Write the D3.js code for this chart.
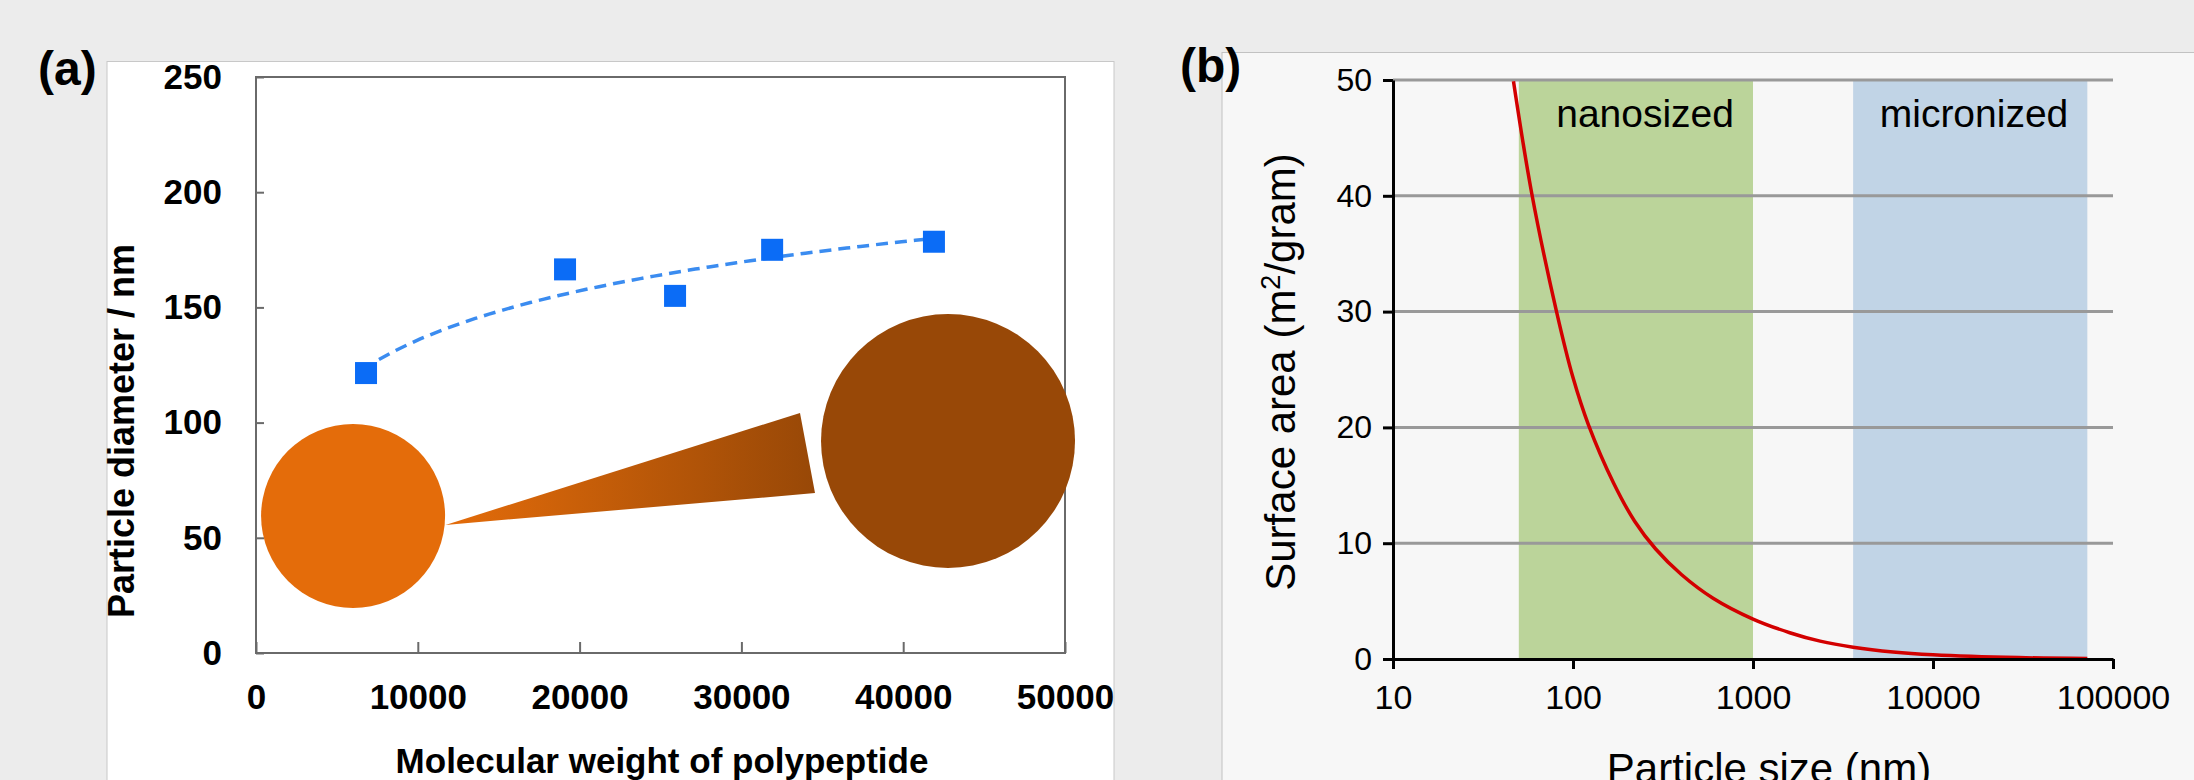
<!DOCTYPE html>
<html lang="en">
  <head>
    <meta charset="UTF-8" />
    <title>Particle size charts</title>
    <script src="https://d3js.org/d3.v7.min.js"></script>
    <style>
      body {
        margin: 0;
        background-color: #ececec;
        overflow: hidden;
      }
      svg {
        display: block;
        font-family: "Liberation Sans", Arial, sans-serif;
      }
      .axis-a text {
        font-size: 35px;
        font-weight: bold;
        fill: #000;
      }
      .axis-b text {
        fill: #000;
      }
    </style>
  </head>
  <body>
    <svg id="chart" width="2194" height="780"></svg>
    <script>
      // panel (a): particle diameter vs molecular weight
      const molWeight = [6800, 19100, 25900, 31900, 41900];
      const diameter = [121.5, 166.5, 155, 175, 178.5];
      const xTicksA = [0, 10000, 20000, 30000, 40000, 50000];
      const yTicksA = [0, 50, 100, 150, 200, 250];
      const trendRange = [7600, 41600];

      // illustration in data units: small / big particle and the wedge between
      const smallParticle = { mw: 6000, d: 59.5 };
      const bigParticle = { mw: 42770, d: 92 };
      const wedge = [
        [11710, 55.6],
        [33620, 104.2],
        [34550, 69.4],
      ];

      // panel (b): surface area vs particle size
      const sizeNm = [46.7, 59, 81, 100, 122, 168, 220, 288, 400, 600, 1000, 1600, 2360, 3600, 6000, 10000, 30000, 72000];
      const surfaceArea = [49.9, 40.2, 30, 24.3, 20.2, 15.2, 11.9, 9.5, 7.3, 5.25, 3.45, 2.27, 1.54, 1.02, 0.61, 0.37, 0.12, 0.05];
      const bands = [
        { name: "nanosized", from: 50, to: 1000, color: "#bbd49a" },
        { name: "micronized", from: 3600, to: 72000, color: "#c1d4e6" },
      ];
      const xTicksB = [10, 100, 1000, 10000, 100000];
      const yTicksB = [0, 10, 20, 30, 40, 50];

      const svg = d3.select("#chart");

      // panel backgrounds
      svg.append("rect").attr("x", 107).attr("y", 61.5).attr("width", 1007).attr("height", 740)
        .attr("fill", "#fff").attr("stroke", "#c8c8c8").attr("stroke-width", 1);
      svg.append("rect").attr("x", 1222).attr("y", 52.5).attr("width", 1000).attr("height", 760)
        .attr("fill", "#f7f7f7").attr("stroke", "#c2c2c2").attr("stroke-width", 1);

      // ---------- panel (a) ----------
      const xA = d3.scaleLinear().domain([0, 50000]).range([256, 1065]);
      const yA = d3.scaleLinear().domain([0, 250]).range([653, 77]);
      const gA = svg.append("g");

      gA.append("rect")
        .attr("x", xA(0)).attr("y", yA(250))
        .attr("width", xA(50000) - xA(0)).attr("height", yA(0) - yA(250))
        .attr("fill", "none").attr("stroke", "#6a6a6a").attr("stroke-width", 2);

      const axA = gA.append("g").attr("class", "axis-a")
        .attr("transform", `translate(0,${yA(0)})`)
        .call(d3.axisBottom(xA).tickValues(xTicksA).tickFormat(d3.format("d"))
          .tickSize(-11).tickSizeOuter(0).tickPadding(31));
      const ayA = gA.append("g").attr("class", "axis-a")
        .attr("transform", `translate(${xA(0)},0)`)
        .call(d3.axisLeft(yA).tickValues(yTicksA).tickSize(-8).tickSizeOuter(0).tickPadding(34));
      [axA, ayA].forEach((a) => {
        a.select(".domain").remove();
        a.selectAll(".tick line").attr("stroke", "#6a6a6a").attr("stroke-width", 2);
      });

      // logarithmic trend line fitted to the points
      const lx = molWeight.map((v) => Math.log(v));
      const mx = d3.mean(lx);
      const my = d3.mean(diameter);
      const slope = d3.sum(lx, (v, i) => (v - mx) * (diameter[i] - my)) / d3.sum(lx, (v) => (v - mx) ** 2);
      const icpt = my - slope * mx;
      const trendPts = d3.range(0, 41).map((i) => {
        const w = trendRange[0] + ((trendRange[1] - trendRange[0]) * i) / 40;
        return [w, slope * Math.log(w) + icpt];
      });
      gA.append("path")
        .datum(trendPts)
        .attr("fill", "none")
        .attr("stroke", "#3b8cf0")
        .attr("stroke-width", 3.5)
        .attr("stroke-dasharray", "12,7")
        .attr("d", d3.line().x((d) => xA(d[0])).y((d) => yA(d[1])));

      gA.selectAll(".pt")
        .data(molWeight)
        .enter()
        .append("rect")
        .attr("x", (d) => xA(d) - 11)
        .attr("y", (d, i) => yA(diameter[i]) - 11)
        .attr("width", 22)
        .attr("height", 22)
        .attr("fill", "#0b6cf6");

      // particles illustration
      const grad = svg.append("defs").append("linearGradient")
        .attr("id", "wedgeGrad").attr("x1", "0%").attr("x2", "100%").attr("y1", "0%").attr("y2", "0%");
      grad.append("stop").attr("offset", "0%").attr("stop-color", "#e46c0a");
      grad.append("stop").attr("offset", "100%").attr("stop-color", "#984807");

      gA.append("path")
        .attr("d", d3.line().x((d) => xA(d[0])).y((d) => yA(d[1]))(wedge) + "Z")
        .attr("fill", "url(#wedgeGrad)");
      gA.append("circle")
        .attr("cx", xA(smallParticle.mw)).attr("cy", yA(smallParticle.d)).attr("r", 92)
        .attr("fill", "#e46c0a");
      gA.append("circle")
        .attr("cx", xA(bigParticle.mw)).attr("cy", yA(bigParticle.d)).attr("r", 127)
        .attr("fill", "#984807");

      gA.append("text")
        .attr("x", 662).attr("y", 773)
        .attr("text-anchor", "middle")
        .attr("font-size", 35).attr("font-weight", "bold")
        .text("Molecular weight of polypeptide");
      gA.append("text")
        .attr("transform", "translate(134,431) rotate(-90)")
        .attr("text-anchor", "middle")
        .attr("font-size", 36).attr("font-weight", "bold")
        .text("Particle diameter / nm");

      // ---------- panel (b) ----------
      const xB = d3.scaleLog().domain([10, 100000]).range([1393, 2113]);
      const yB = d3.scaleLinear().domain([0, 50]).range([659, 80]);
      const gB = svg.append("g");

      gB.selectAll(".band")
        .data(bands)
        .enter()
        .append("rect")
        .attr("x", (d) => xB(d.from))
        .attr("y", yB(50))
        .attr("width", (d) => xB(d.to) - xB(d.from))
        .attr("height", yB(0) - yB(50))
        .attr("fill", (d) => d.color);

      gB.selectAll(".grid")
        .data(yTicksB.filter((d) => d > 0))
        .enter()
        .append("line")
        .attr("x1", xB(10)).attr("x2", xB(100000))
        .attr("y1", (d) => yB(d)).attr("y2", (d) => yB(d))
        .attr("stroke", "#999").attr("stroke-width", 3);

      gB.selectAll(".band-label")
        .data(bands)
        .enter()
        .append("text")
        .attr("x", (d) => xB(d.to) - 19)
        .attr("y", 127)
        .attr("text-anchor", "end")
        .attr("font-size", 39)
        .text((d) => d.name);

      gB.append("path")
        .datum(sizeNm.map((s, i) => [s, surfaceArea[i]]))
        .attr("fill", "none")
        .attr("stroke", "#d30000")
        .attr("stroke-width", 3.5)
        .attr("d", d3.line().curve(d3.curveCatmullRom.alpha(0.5)).x((d) => xB(d[0])).y((d) => yB(d[1])));

      const axB = gB.append("g").attr("class", "axis-b")
        .attr("transform", `translate(0,${yB(0)})`)
        .call(d3.axisBottom(xB).tickValues(xTicksB).tickFormat(d3.format("d")).tickSize(10).tickSizeOuter(0).tickPadding(16));
      const ayB = gB.append("g").attr("class", "axis-b")
        .attr("transform", `translate(${xB(10)},0)`)
        .call(d3.axisLeft(yB).tickValues(yTicksB).tickSize(10).tickSizeOuter(0).tickPadding(11));
      axB.selectAll("text").attr("font-size", 34);
      ayB.selectAll("text").attr("font-size", 32);
      [axB, ayB].forEach((a) => {
        a.select(".domain").attr("stroke", "#000").attr("stroke-width", 3);
        a.selectAll(".tick line").attr("stroke", "#000").attr("stroke-width", 3);
      });

      gB.append("text")
        .attr("x", 1769).attr("y", 783)
        .attr("text-anchor", "middle")
        .attr("font-size", 42)
        .text("Particle size (nm)");
      const yLab = gB.append("text")
        .attr("transform", "translate(1295,372) rotate(-90)")
        .attr("text-anchor", "middle")
        .attr("font-size", 42);
      yLab.append("tspan").text("Surface area (m");
      yLab.append("tspan").attr("baseline-shift", "super").attr("font-size", 27).text("2");
      yLab.append("tspan").text("/gram)");

      // panel letters
      svg.append("text").attr("x", 38).attr("y", 85)
        .attr("font-size", 48).attr("font-weight", "bold").text("(a)");
      svg.append("text").attr("x", 1180).attr("y", 82)
        .attr("font-size", 48).attr("font-weight", "bold").text("(b)");
    </script>
  </body>
</html>
